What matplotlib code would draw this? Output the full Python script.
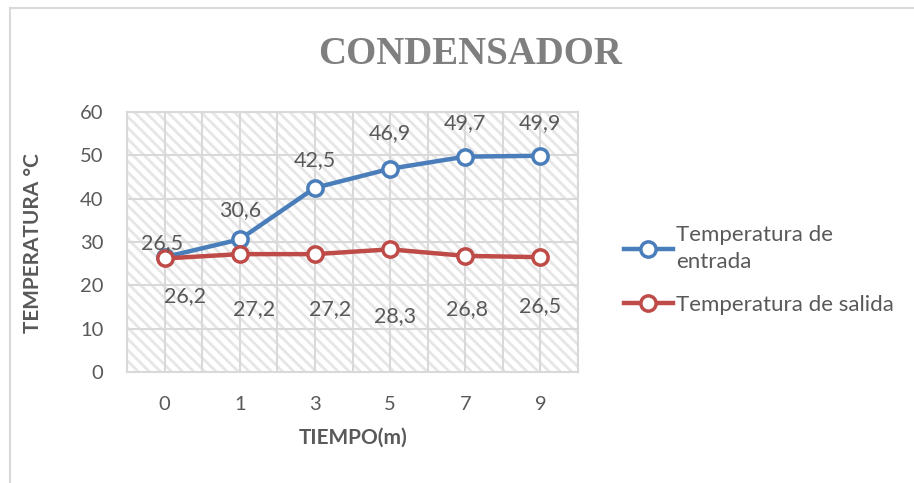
import matplotlib.pyplot as plt
from matplotlib.lines import Line2D
from matplotlib.patches import Rectangle

# Condenser temperatures over time
tiempo = ['0', '1', '3', '5', '7', '9']
temp_entrada = [26.5, 30.6, 42.5, 46.9, 49.7, 49.9]
temp_salida = [26.2, 27.2, 27.2, 28.3, 26.8, 26.5]

# label offsets in pixels (dx, dy)
off_entrada = [(-3, 14), (0, 29), (0, 28), (0, 36), (0, 34), (0, 33)]
off_salida = [(20, -38), (14, -55), (15, -55), (5, -67), (2, -53), (0, -49)]

BLUE = '#4A7EBB'
RED = '#BE4B48'
TXT = '#595959'
GRID = '#D9D9D9'

plt.rcParams['font.family'] = ['Lato', 'DejaVu Sans']
plt.rcParams['hatch.linewidth'] = 2.0
plt.rcParams['hatch.color'] = '#E6E6E6'

fig = plt.figure(figsize=(9.14, 4.83), dpi=100)
ax = fig.add_axes([127 / 914, 111 / 483, 451 / 914, 260 / 483])

x = list(range(len(tiempo)))

# hatched plot area
ax.add_patch(Rectangle((0, 0), 1, 1, transform=ax.transAxes, facecolor='white',
                       edgecolor='#E6E6E6', hatch='\\\\\\', linewidth=0, zorder=0))

for yv in range(10, 61, 10):
    ax.axhline(yv, color=GRID, lw=1.5, zorder=1)
for i in range(len(tiempo) * 2 + 1):
    ax.axvline(-0.5 + i * 0.5, color=GRID, lw=1.5, zorder=1)

ax.plot(x, temp_entrada, color=BLUE, lw=3.2, marker='o', ms=11,
        mfc='white', mec=BLUE, mew=2.5, zorder=3, label='Temperatura de\nentrada')
ax.plot(x, temp_salida, color=RED, lw=3.2, marker='o', ms=11,
        mfc='white', mec=RED, mew=2.5, zorder=3, label='Temperatura de salida')

for xi, v, (dx, dy) in zip(x, temp_entrada, off_entrada):
    ax.annotate(f'{v:.1f}'.replace('.', ','), (xi, v), xytext=(dx, dy),
                textcoords='offset pixels', ha='center', va='center',
                fontsize=15.5, color=TXT, zorder=4)
for xi, v, (dx, dy) in zip(x, temp_salida, off_salida):
    ax.annotate(f'{v:.1f}'.replace('.', ','), (xi, v), xytext=(dx, dy),
                textcoords='offset pixels', ha='center', va='center',
                fontsize=15.5, color=TXT, zorder=4)

ax.set_xlim(-0.5, len(tiempo) - 0.5)
ax.set_ylim(0, 60)
ax.set_xticks(x)
ax.set_xticklabels(tiempo)
ax.set_yticks(range(0, 61, 10))
ax.tick_params(length=0, labelsize=14.5, labelcolor=TXT)
ax.tick_params(axis='x', pad=17)
ax.tick_params(axis='y', pad=17)
for s in ax.spines.values():
    s.set_color(GRID)
    s.set_linewidth(1.5)

fig.text(33 / 914, 1 - 243 / 483, 'TEMPERATURA °C', rotation=90, ha='center',
         va='center', fontsize=15, fontweight='bold', color=TXT)
fig.text(353 / 914, 1 - 438 / 483, 'TIEMPO(m)', ha='center', va='center',
         fontsize=15, fontweight='bold', color=TXT)
fig.text(470 / 914, 1 - 55 / 483, 'CONDENSADOR', ha='center', va='center',
         fontsize=28, fontweight='bold', color='#7F7F7F', family='Liberation Serif')

leg = fig.legend(loc='center left', bbox_to_anchor=(604 / 914, 1 - 270 / 483),
                 frameon=False, fontsize=16, labelcolor=TXT, handlelength=2.2,
                 handletextpad=0.15, labelspacing=1.0)
for t in leg.get_texts():
    t.set_linespacing(1.45)

# chart frame
fig.add_artist(Line2D([10 / 914, 10 / 914], [0, 1 - 8 / 483], color=GRID, lw=1.5))
fig.add_artist(Line2D([10 / 914, 1], [1 - 8 / 483, 1 - 8 / 483], color=GRID, lw=1.5))

fig.savefig('out.png', dpi=100)
